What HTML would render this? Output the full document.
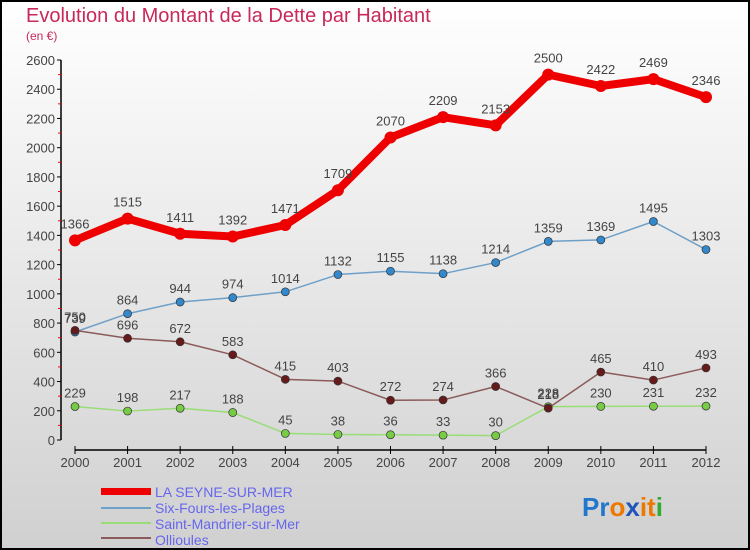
<!DOCTYPE html>
<html><head><meta charset="utf-8"><style>
body{margin:0;}
svg{display:block;font-family:"Liberation Sans",sans-serif;}
</style></head><body>
<svg id="c" width="750" height="550" viewBox="0 0 750 550">
<defs><linearGradient id="bg" x1="0" y1="0" x2="0" y2="1"><stop offset="0" stop-color="#ffffff"/><stop offset="1" stop-color="#d0d0d0"/></linearGradient></defs>
<rect x="1" y="1" width="748" height="548" fill="url(#bg)" stroke="#000" stroke-width="2"/>
<text x="26" y="22" font-size="20" fill="#c8285a">Evolution du Montant de la Dette par Habitant</text>
<text x="26" y="40" font-size="12" fill="#c8285a">(en €)</text>
<g id="axes"></g><g id="series"></g>
<g>
<rect x="101" y="488" width="50" height="7" fill="#ee0000"/>
<text x="155" y="497" font-size="14" fill="#6666ee">LA SEYNE-SUR-MER</text>
<rect x="101" y="507" width="50" height="2" fill="#6fa0c8"/>
<text x="155" y="513" font-size="14" fill="#6666ee">Six-Fours-les-Plages</text>
<rect x="101" y="522" width="50" height="2" fill="#99dd77"/>
<text x="155" y="529" font-size="14" fill="#6666ee">Saint-Mandrier-sur-Mer</text>
<rect x="101" y="537" width="50" height="2" fill="#8b5a5a"/>
<text x="155" y="545" font-size="14" fill="#6666ee">Ollioules</text>
</g>
<text x="582" y="516" font-size="26" font-weight="bold"><tspan fill="#2277cc">Pr</tspan><tspan fill="#ee7700">o</tspan><tspan fill="#2255bb">x</tspan><tspan fill="#ee7700">it</tspan><tspan fill="#33aa33">i</tspan></text>
</svg>
<script>
const years=[2000,2001,2002,2003,2004,2005,2006,2007,2008,2009,2010,2011,2012];
const laSeyne=[1366,1515,1411,1392,1471,1709,2070,2209,2153,2500,2422,2469,2346];
const sixFours=[739,864,944,974,1014,1132,1155,1138,1214,1359,1369,1495,1303];
const saintMandrier=[229,198,217,188,45,38,36,33,30,228,230,231,232];
const ollioules=[750,696,672,583,415,403,272,274,366,218,465,410,493];
const yTicks=[0,200,400,600,800,1000,1200,1400,1600,1800,2000,2200,2400,2600];
const NS="http://www.w3.org/2000/svg";
const X=i=>75+i*(706-75)/12;
const Y=v=>440-v*380/2600;
function mk(t,a,p){const e=document.createElementNS(NS,t);for(const k in a)e.setAttribute(k,a[k]);p.appendChild(e);return e;}
const ax=document.getElementById('axes');
let l=mk('line',{x1:61,y1:Y(2600),x2:61,y2:Y(0),stroke:'#000','stroke-width':1.5},ax);


yTicks.forEach(v=>{
 mk('line',{x1:57,y1:Y(v),x2:61,y2:Y(v),stroke:'#000'},ax);
 if(v<2600)mk('line',{x1:58,y1:Y(v+100),x2:61,y2:Y(v+100),stroke:'#f00'},ax);
 const t=mk('text',{x:55,y:Y(v)+5,'font-size':13,fill:'#444','text-anchor':'end'},ax);t.textContent=v;
 
 
});
l=mk('line',{x1:X(0),y1:450,x2:X(12),y2:450,stroke:'#000','stroke-width':1.5},ax);


years.forEach((y,i)=>{
 mk('line',{x1:X(i),y1:446,x2:X(i),y2:454,stroke:'#000'},ax);
 const t=mk('text',{x:X(i),y:467,'font-size':13,fill:'#444','text-anchor':'middle'},ax);t.textContent=y;
 
 
});
const sg=document.getElementById('series');
function series(data,name,color,w,r,dot,fs){
 const g=mk('g',{},sg);
 
 
 mk('polyline',{points:data.map((v,i)=>X(i)+','+Y(v)).join(' '),fill:'none',stroke:color,'stroke-width':w,'stroke-linejoin':'round'},g);
 data.forEach((v,i)=>{
  const c=mk('circle',{cx:X(i),cy:Y(v),r:r,fill:dot,stroke:'#333','stroke-width':r>4?0:0.7},g);
  
  
  const t=mk('text',{x:X(i),y:Y(v)-(r>4?12:9),'font-size':fs,fill:'#444','text-anchor':'middle'},g);t.textContent=v;
  
  
 });
}
series(saintMandrier,'saint-mandrier-series','#99dd77',1.5,4,'#77cc44',13);
series(sixFours,'six-fours-series','#6fa0c8',1.5,4,'#3388cc',13);
series(ollioules,'ollioules-series','#8b5a5a',1.5,4,'#661a1a',13);
series(laSeyne,'la-seyne-series','#ee0000',8,6,'#ee0000',13);
</script>
</body></html>
